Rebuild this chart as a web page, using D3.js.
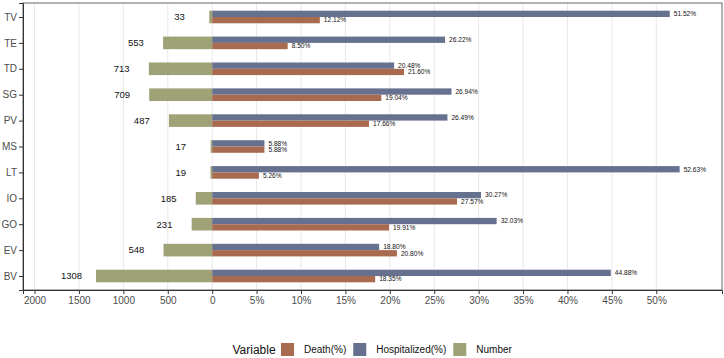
<!DOCTYPE html>
<html>
<head>
<meta charset="utf-8">
<script src="https://cdn.jsdelivr.net/npm/d3@7"></script>
<style>
    body { margin: 0; background: #fff; }
    svg { display: block; font-family: "Liberation Sans", Arial, Helvetica, sans-serif; }
</style>
</head>
<body>
<script>
'use strict';

// categorias de cima para baixo
const categorias = ['TV', 'TE', 'TD', 'SG', 'PV', 'MS', 'LT', 'IO', 'GO', 'EV', 'BV']
const numero = [33, 553, 713, 709, 487, 17, 19, 185, 231, 548, 1308]
const hospitalizado = [51.52, 26.22, 20.48, 26.94, 26.49, 5.88, 52.63, 30.27, 32.03, 18.80, 44.88]
const morte = [12.12, 8.50, 21.60, 19.04, 17.66, 5.88, 5.26, 27.57, 19.91, 20.80, 18.35]

const ticksX = [-20, -15, -10, -5, 0, 5, 10, 15, 20, 25, 30, 35, 40, 45, 50]
const rotulosX = ['2000', '1500', '1000', '500', '0', '5%', '10%', '15%', '20%', '25%', '30%', '35%', '40%', '45%', '50%']

const legendaTitulo = 'Variable'
const legendaNomes = ['Death(%)', 'Hospitalized(%)', 'Number']

const cores = {morte: '#A86B50', hosp: '#66708F', numero: '#9EA276'}

class Grafico {
    constructor (largura=724, altura=358) {
        this.largura = largura
        this.altura = altura
        this.painel = {esq: 23, dir: 722, topo: 3, base: 290}
        this.svg = d3.select('body').append('svg')
            .attr('width', largura)
            .attr('height', altura)
        this.criaEscalas()
        this.criaGrade()
        this.preenche()
        this.criaEixos()
        this.criaLegenda()
    }

    criaEscalas() {
        const p = this.painel
        // numero / 100 compartilha a mesma escala que as porcentagens
        this.escalaX = d3.scaleLinear()
            .domain([-21.3, 57.4])
            .range([p.esq, p.dir])
        this.escalaY = d3.scalePoint()
            .domain(categorias)
            .range([p.topo, p.base])
            .padding(0.54)
    }

    criaGrade() {
        const p = this.painel
        this.svg.append('g').selectAll('line').data(ticksX).enter().append('line')
            .attr('x1', d => this.escalaX(d))
            .attr('x2', d => this.escalaX(d))
            .attr('y1', p.topo)
            .attr('y2', p.base)
            .attr('stroke', '#E8E8E8')
            .attr('stroke-width', 1)
    }

    preenche() {
        const x = this.escalaX
        const y = this.escalaY
        const h = 6.3
        const linhas = categorias.map((c, i) => ({c, n: numero[i], hp: hospitalizado[i], m: morte[i]}))
        const g = this.svg.append('g')

        g.selectAll('rect.numero').data(linhas).enter().append('rect')
            .attr('x', d => x(-d.n / 100))
            .attr('y', d => y(d.c) - h)
            .attr('width', d => x(0) - x(-d.n / 100))
            .attr('height', 2 * h)
            .attr('fill', cores.numero)

        g.selectAll('rect.hosp').data(linhas).enter().append('rect')
            .attr('x', x(0))
            .attr('y', d => y(d.c) - h)
            .attr('width', d => x(d.hp) - x(0))
            .attr('height', h)
            .attr('fill', cores.hosp)

        g.selectAll('rect.morte').data(linhas).enter().append('rect')
            .attr('x', x(0))
            .attr('y', d => y(d.c))
            .attr('width', d => x(d.m) - x(0))
            .attr('height', h)
            .attr('fill', cores.morte)

        g.selectAll('text.numero').data(linhas).enter().append('text')
            .attr('x', d => x(-(d.n + 395) / 100))
            .attr('y', d => y(d.c))
            .attr('dy', '0.35em')
            .attr('font-size', 9.5)
            .attr('fill', '#111')
            .text(d => d.n)

        g.selectAll('text.hosp').data(linhas).enter().append('text')
            .attr('x', d => x(d.hp) + 4)
            .attr('y', d => y(d.c) - h / 2)
            .attr('dy', '0.35em')
            .attr('font-size', 6.6)
            .attr('fill', '#111')
            .text(d => d.hp.toFixed(2) + '%')

        g.selectAll('text.morte').data(linhas).enter().append('text')
            .attr('x', d => x(d.m) + 4)
            .attr('y', d => y(d.c) + h / 2)
            .attr('dy', '0.35em')
            .attr('font-size', 6.6)
            .attr('fill', '#111')
            .text(d => d.m.toFixed(2) + '%')
    }

    criaEixos() {
        const p = this.painel
        this.svg.append('rect')
            .attr('x', p.esq)
            .attr('y', p.topo)
            .attr('width', p.dir - p.esq)
            .attr('height', p.base - p.topo)
            .attr('fill', 'none')
            .attr('stroke', '#666')
            .attr('stroke-width', 1)

        const eixoX = d3.axisBottom(this.escalaX)
            .tickValues(ticksX)
            .tickFormat((d, i) => rotulosX[i])
            .tickSize(4)
            .tickPadding(3)
        const eixoY = d3.axisLeft(this.escalaY)
            .tickSize(4)
            .tickPadding(2)

        for (const [eixo, trans] of [[eixoX, `translate(0, ${p.base})`], [eixoY, `translate(${p.esq}, 0)`]]) {
            const g = this.svg.append('g').attr('transform', trans).call(eixo)
            g.select('.domain').attr('stroke', '#333')
            g.selectAll('.tick line').attr('stroke', '#333')
            g.selectAll('.tick text')
                .attr('fill', '#4D4D4D')
                .attr('font-size', 10)
                .attr('font-family', null)
        }
    }

    criaLegenda() {
        const yc = 349.5
        const g = this.svg.append('g')
        g.append('text')
            .attr('x', 232.5)
            .attr('y', yc)
            .attr('dy', '0.35em')
            .attr('font-size', 12)
            .attr('fill', '#111')
            .text(legendaTitulo)

        let xAtual = 281
        const chaves = [cores.morte, cores.hosp, cores.numero]
        legendaNomes.forEach((nome, i) => {
            g.append('rect')
                .attr('x', xAtual)
                .attr('y', yc - 6.5)
                .attr('width', 13)
                .attr('height', 13)
                .attr('fill', chaves[i])
            const t = g.append('text')
                .attr('x', xAtual + 23)
                .attr('y', yc)
                .attr('dy', '0.35em')
                .attr('font-size', 10)
                .attr('fill', '#111')
                .text(nome)
            xAtual += 23 + t.node().getComputedTextLength() + 7
        })
    }
}

let grafico = new Grafico()
</script>
</body>
</html>
